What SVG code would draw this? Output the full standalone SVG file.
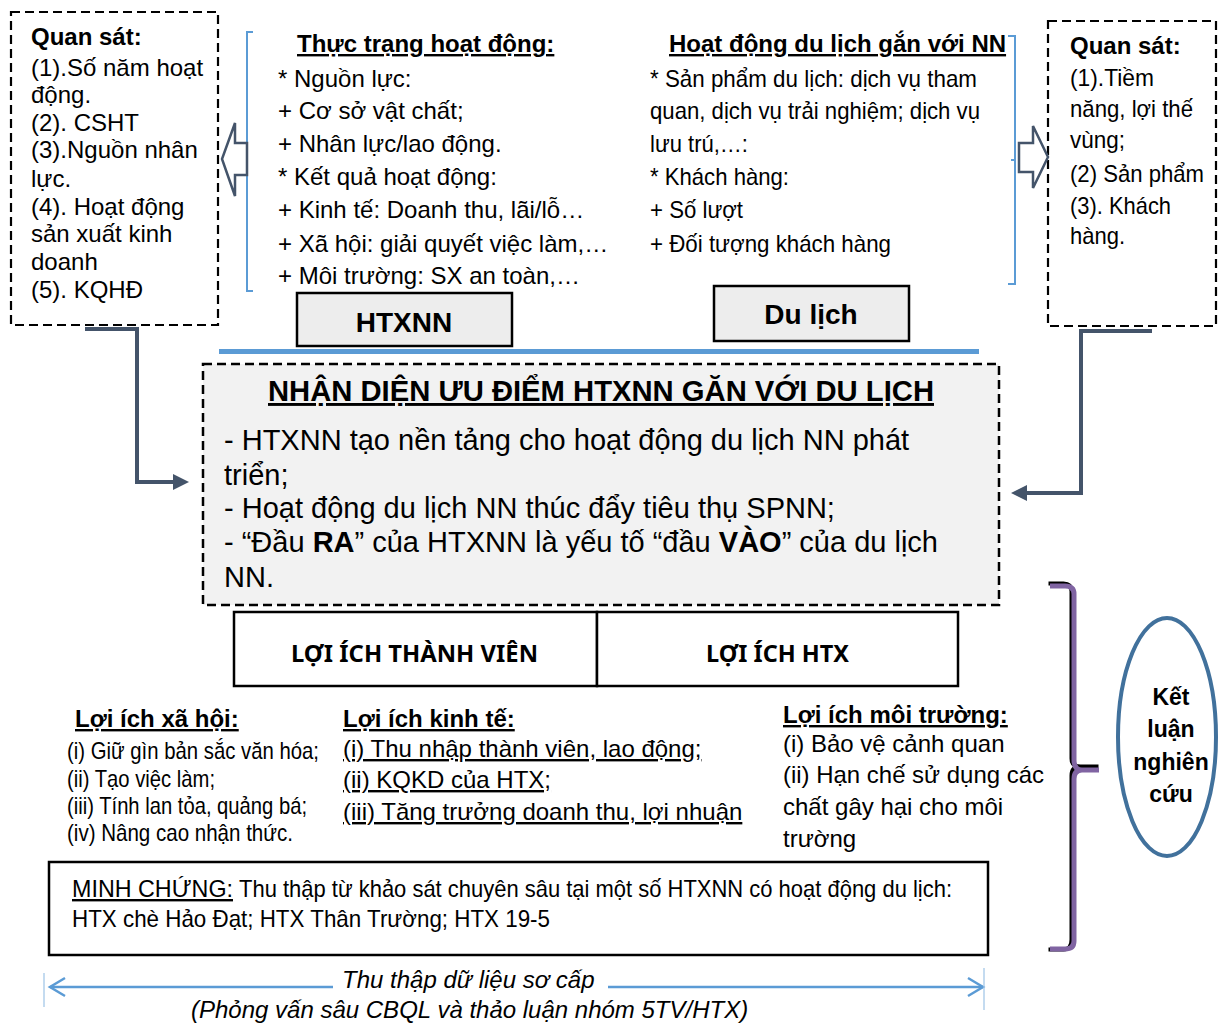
<svg xmlns="http://www.w3.org/2000/svg" width="1218" height="1023" viewBox="0 0 1218 1023">
<style>
text{font-family:"Liberation Sans",Arial,sans-serif;fill:#000;}
.r24{font-size:24px;}
.b24{font-size:24px;font-weight:bold;}
.u{text-decoration:underline;}
.m29{font-size:29px;}
.dash{fill:#fff;stroke:#000;stroke-width:2.2;stroke-dasharray:9 5;}
.gbox{fill:#EDEDED;stroke:#000;stroke-width:2.5;}
.box{fill:#fff;stroke:#000;stroke-width:2.5;}
.conn{fill:none;stroke:#44546A;stroke-width:4;}
.head{fill:#44546A;}
.hollow{fill:#fff;stroke:#44546A;stroke-width:2.5;stroke-linejoin:miter;}
.blue{fill:none;stroke:#5B9BD5;stroke-width:2;}
.cal{font-family:"Noto Sans","Liberation Sans",sans-serif;font-weight:bold;font-size:24px;}
.it{font-size:24px;font-style:italic;}
</style>

<!-- Left observation box -->
<g id="quan-sat-trai">
<rect class="dash" x="11" y="12" width="207" height="313"/>
<text class="b24" x="31" y="45">Quan sát:</text>
<text class="r24" x="31" y="76">(1).Số năm hoạt</text>
<text class="r24" x="31" y="103">động.</text>
<text class="r24" x="31" y="131">(2). CSHT</text>
<text class="r24" x="31" y="158">(3).Nguồn nhân</text>
<text class="r24" x="31" y="187">lực.</text>
<text class="r24" x="31" y="215">(4). Hoạt động</text>
<text class="r24" x="31" y="242">sản xuất kinh</text>
<text class="r24" x="31" y="270">doanh</text>
<text class="r24" x="31" y="298">(5). KQHĐ</text>
</g>

<!-- Thuc trang hoat dong -->
<g id="thuc-trang">
<path class="blue" d="M253,32 H247 V291 H253 M247,161 H243"/>
<text class="b24 u" x="297" y="52">Thực trạng hoạt động:</text>
<text class="r24" x="278" y="87">* Nguồn lực:</text>
<text class="r24" x="278" y="119">+ Cơ sở vật chất;</text>
<text class="r24" x="278" y="152">+ Nhân lực/lao động.</text>
<text class="r24" x="278" y="185">* Kết quả hoạt động:</text>
<text class="r24" x="278" y="218">+ Kinh tế: Doanh thu, lãi/lỗ…</text>
<text class="r24" x="278" y="252">+ Xã hội: giải quyết việc làm,…</text>
<text class="r24" x="278" y="284">+ Môi trường: SX an toàn,…</text>
</g>

<!-- HTXNN box -->
<g id="htxnn">
<rect class="gbox" x="297" y="293" width="215" height="53"/>
<text x="404" y="332" text-anchor="middle" style="font-size:28px;font-weight:bold;">HTXNN</text>
</g>

<!-- Hoat dong du lich -->
<g id="hoat-dong-du-lich">
<path class="blue" d="M1008,36 H1015 V284 H1008 M1015,160 H1011"/>
<text class="b24 u" x="669" y="52">Hoạt động du lịch gắn với NN</text>
<text class="r24" x="650" y="87" textLength="327" lengthAdjust="spacingAndGlyphs">* Sản phẩm du lịch: dịch vụ tham</text>
<text class="r24" x="650" y="119" textLength="330" lengthAdjust="spacingAndGlyphs">quan, dịch vụ trải nghiệm; dịch vụ</text>
<text class="r24" x="650" y="152" textLength="98" lengthAdjust="spacingAndGlyphs">lưu trú,…:</text>
<text class="r24" x="650" y="185" textLength="139" lengthAdjust="spacingAndGlyphs">* Khách hàng:</text>
<text class="r24" x="650" y="218" textLength="93" lengthAdjust="spacingAndGlyphs">+ Số lượt</text>
<text class="r24" x="650" y="252" textLength="241" lengthAdjust="spacingAndGlyphs">+ Đối tượng khách hàng</text>
</g>

<!-- Du lich box -->
<g id="du-lich">
<rect class="gbox" x="714" y="286" width="195" height="55"/>
<text x="811" y="324" text-anchor="middle" style="font-size:28px;font-weight:bold;">Du lịch</text>
</g>

<!-- Right observation box -->
<g id="quan-sat-phai">
<rect class="dash" x="1048" y="21" width="168" height="305"/>
<text class="b24" x="1070" y="54">Quan sát:</text>
<text class="r24" x="1070" y="86" textLength="84" lengthAdjust="spacingAndGlyphs">(1).Tiềm</text>
<text class="r24" x="1070" y="117" textLength="123" lengthAdjust="spacingAndGlyphs">năng, lợi thế</text>
<text class="r24" x="1070" y="148" textLength="55" lengthAdjust="spacingAndGlyphs">vùng;</text>
<text class="r24" x="1070" y="182" textLength="134" lengthAdjust="spacingAndGlyphs">(2) Sản phẩm</text>
<text class="r24" x="1070" y="214" textLength="101" lengthAdjust="spacingAndGlyphs">(3). Khách</text>
<text class="r24" x="1070" y="244" textLength="55" lengthAdjust="spacingAndGlyphs">hàng.</text>
</g>

<!-- Separator line -->
<g id="duong-phan-cach">
<line x1="219" y1="351.5" x2="979" y2="351.5" stroke="#5B9BD5" stroke-width="5"/>
</g>

<!-- Central box -->
<g id="nhan-dien">
<rect x="203" y="364" width="796" height="241" fill="#F2F2F2" stroke="#000" stroke-width="2.5" stroke-dasharray="9 5"/>
<text class="u" x="268" y="401" textLength="666" lengthAdjust="spacingAndGlyphs" style="font-size:29px;font-weight:bold;">NHẬN DIỆN ƯU ĐIỂM HTXNN GĂN VỚI DU LỊCH</text>
<text class="m29" x="224" y="450">- HTXNN tạo nền tảng cho hoạt động du lịch NN phát</text>
<text class="m29" x="224" y="485">triển;</text>
<text class="m29" x="224" y="518">- Hoạt động du lịch NN thúc đẩy tiêu thụ SPNN;</text>
<text class="m29" x="224" y="552">- “Đầu <tspan font-weight="bold">RA</tspan>” của HTXNN là yếu tố “đầu <tspan font-weight="bold">VÀO</tspan>” của du lịch</text>
<text class="m29" x="224" y="587">NN.</text>
</g>

<!-- Loi ich boxes -->
<g id="loi-ich-thanh-vien">
<rect class="box" x="234" y="612" width="363" height="74"/>
<text class="cal" x="291" y="662" textLength="247" lengthAdjust="spacingAndGlyphs">LỢI ÍCH THÀNH VIÊN</text>
</g>
<g id="loi-ich-htx">
<rect class="box" x="597" y="612" width="361" height="74"/>
<text class="cal" x="706" y="662" textLength="143" lengthAdjust="spacingAndGlyphs">LỢI ÍCH HTX</text>
</g>

<!-- Loi ich xa hoi -->
<g id="loi-ich-xa-hoi">
<text class="b24 u" x="75" y="727">Lợi ích xã hội:</text>
<text class="r24" x="67" y="759" textLength="252" lengthAdjust="spacingAndGlyphs">(i) Giữ gìn bản sắc văn hóa;</text>
<text class="r24" x="67" y="787" textLength="148" lengthAdjust="spacingAndGlyphs">(ii) Tạo việc làm;</text>
<text class="r24" x="67" y="814" textLength="240" lengthAdjust="spacingAndGlyphs">(iii) Tính lan tỏa, quảng bá;</text>
<text class="r24" x="67" y="841" textLength="226" lengthAdjust="spacingAndGlyphs">(iv) Nâng cao nhận thức.</text>
</g>

<!-- Loi ich kinh te -->
<g id="loi-ich-kinh-te">
<text class="b24 u" x="343" y="727">Lợi ích kinh tế:</text>
<text class="r24 u" x="343" y="757">(i) Thu nhập thành viên, lao động;</text>
<text class="r24 u" x="343" y="788">(ii) KQKD của HTX;</text>
<text class="r24 u" x="343" y="820">(iii) Tăng trưởng doanh thu, lợi nhuận</text>
</g>

<!-- Loi ich moi truong -->
<g id="loi-ich-moi-truong">
<text class="b24 u" x="783" y="723">Lợi ích môi trường:</text>
<text class="r24" x="783" y="752">(i) Bảo vệ cảnh quan</text>
<text class="r24" x="783" y="783" textLength="261" lengthAdjust="spacingAndGlyphs">(ii) Hạn chế sử dụng các</text>
<text class="r24" x="783" y="815">chất gây hại cho môi</text>
<text class="r24" x="783" y="847">trường</text>
</g>

<!-- Minh chung -->
<g id="minh-chung">
<rect class="box" x="49" y="862" width="939" height="93"/>
<text class="r24 u" x="72" y="897" textLength="161" lengthAdjust="spacingAndGlyphs">MINH CHỨNG:</text>
<text class="r24" x="239" y="897" textLength="713" lengthAdjust="spacingAndGlyphs">Thu thập từ khảo sát chuyên sâu tại một số HTXNN có hoạt động du lịch:</text>
<text class="r24" x="72" y="927" textLength="478" lengthAdjust="spacingAndGlyphs">HTX chè Hảo Đạt; HTX Thân Trường; HTX 19-5</text>
</g>

<!-- Ket luan -->
<g id="ket-luan">
<ellipse cx="1167" cy="737" rx="49" ry="119" fill="#fff" stroke="#41719C" stroke-width="4"/>
<text class="b24" x="1171" y="705" text-anchor="middle" style="font-size:23px;">Kết</text>
<text class="b24" x="1171" y="737" text-anchor="middle" style="font-size:23px;">luận</text>
<text class="b24" x="1171" y="770" text-anchor="middle" style="font-size:23px;">nghiên</text>
<text class="b24" x="1171" y="802" text-anchor="middle" style="font-size:23px;">cứu</text>
</g>

<!-- Connectors -->
<g id="connectors">
<polygon class="hollow" points="247,143 235,143 235,123 222,159 235,196 235,175 247,175"/>
<polygon class="hollow" points="1019,143 1033,143 1033,126 1048,157 1033,188 1033,172 1019,172"/>
<path class="conn" d="M85,329 H137 V482 H175"/>
<polygon class="head" points="173,474 189,482 173,490"/>
<path class="conn" d="M1152,331 H1081 V493 H1024"/>
<polygon class="head" points="1027,485 1011,493 1027,501"/>
<path d="M1050,585 H1065 Q1073,585 1073,593 V760 Q1073,768 1082,768 H1100 M1082,768 Q1073,768 1073,777 V941 Q1073,951 1065,951 H1050" fill="none" stroke="#000" stroke-width="4" transform="translate(-1.5,-1.5)"/>
<path d="M1050,586 H1065 Q1074,586 1074,594 V760 Q1074,770 1082,770 H1099 M1082,770 Q1074,770 1074,779 V941 Q1074,949 1065,949 H1050" fill="none" stroke="#8064A2" stroke-width="5"/>
<g stroke="#5B9BD5" stroke-width="2.5" fill="none">
<path d="M50,987 H333 M608,987 H983"/>
<path d="M65,978 L50,987 L65,996 M968,978 L983,987 L968,996"/>
</g>
<path d="M44,973 V1007 M984,968 V1010" stroke="#9DC3E6" stroke-width="1.2"/>
</g>

<g id="thu-thap">
<text class="it" x="342" y="988">Thu thập dữ liệu sơ cấp</text>
<text class="it" x="191" y="1018">(Phỏng vấn sâu CBQL và thảo luận nhóm 5TV/HTX)</text>
</g>
</svg>
